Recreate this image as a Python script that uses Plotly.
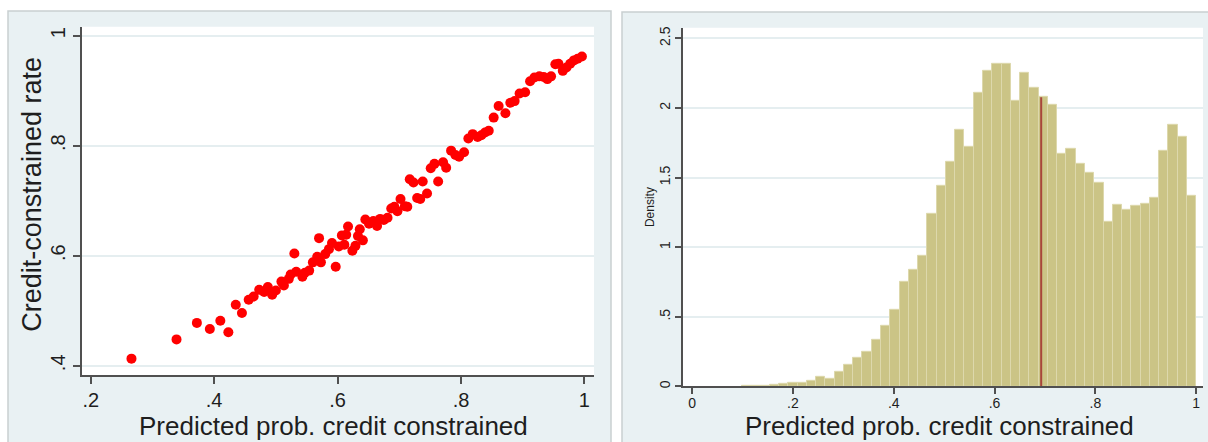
import plotly.graph_objects as go

# ---- data -------------------------------------------------------------
# Left panel: binned predicted probability vs. observed credit-constrained rate
pred_prob = [0.266, 0.339, 0.372, 0.393, 0.410, 0.423, 0.435, 0.445, 0.456, 0.464,
             0.473, 0.481, 0.487, 0.494, 0.500, 0.509, 0.513, 0.521, 0.530, 0.524,
             0.533, 0.543, 0.547, 0.554, 0.560, 0.567, 0.570, 0.573, 0.580, 0.586,
             0.591, 0.597, 0.602, 0.607, 0.611, 0.617, 0.614, 0.624, 0.629, 0.633,
             0.636, 0.641, 0.645, 0.651, 0.658, 0.664, 0.669, 0.675, 0.681, 0.687,
             0.692, 0.697, 0.702, 0.709, 0.713, 0.717, 0.723, 0.729, 0.734, 0.738,
             0.745, 0.751, 0.757, 0.763, 0.771, 0.776, 0.784, 0.791, 0.797, 0.805,
             0.812, 0.819, 0.827, 0.833, 0.839, 0.845, 0.853, 0.861, 0.872, 0.880,
             0.887, 0.895, 0.904, 0.912, 0.919, 0.927, 0.934, 0.940, 0.946, 0.953,
             0.958, 0.965, 0.971, 0.977, 0.983, 0.989, 0.996]
constrained_rate = [0.413, 0.448, 0.478, 0.467, 0.482, 0.461, 0.511, 0.496, 0.520, 0.526,
                    0.538, 0.534, 0.543, 0.529, 0.537, 0.553, 0.546, 0.558, 0.604, 0.566,
                    0.571, 0.562, 0.569, 0.573, 0.588, 0.598, 0.632, 0.588, 0.603, 0.612,
                    0.623, 0.580, 0.617, 0.637, 0.620, 0.653, 0.638, 0.609, 0.618, 0.636,
                    0.648, 0.628, 0.666, 0.658, 0.663, 0.654, 0.667, 0.665, 0.669, 0.686,
                    0.689, 0.681, 0.703, 0.690, 0.689, 0.739, 0.733, 0.705, 0.703, 0.735,
                    0.713, 0.759, 0.767, 0.735, 0.770, 0.760, 0.791, 0.783, 0.780, 0.788,
                    0.813, 0.821, 0.816, 0.819, 0.824, 0.827, 0.851, 0.872, 0.859, 0.878,
                    0.881, 0.895, 0.897, 0.917, 0.924, 0.926, 0.925, 0.921, 0.926, 0.948,
                    0.949, 0.936, 0.942, 0.949, 0.955, 0.958, 0.962]

# Right panel: histogram (density) of predicted probability
bin_start = 0.099
bin_end = 1.0
density = [0.005, 0.005, 0.007, 0.014, 0.017, 0.024, 0.029, 0.041, 0.072, 0.057,
           0.103, 0.155, 0.203, 0.251, 0.335, 0.433, 0.553, 0.751, 0.838, 0.938,
           1.238, 1.444, 1.616, 1.846, 1.718, 2.108, 2.264, 2.319, 2.319, 2.050,
           2.255, 2.147, 2.077, 2.020, 1.672, 1.704, 1.600, 1.535, 1.461, 1.181,
           1.302, 1.267, 1.297, 1.309, 1.357, 1.694, 1.879, 1.793, 1.367]
marker_value = 0.6925

left_xticks = [0.2, 0.4, 0.6, 0.8, 1.0]
left_xlabels = [".2", ".4", ".6", ".8", "1"]
left_yticks = [0.4, 0.6, 0.8, 1.0]
left_ylabels = [".4", ".6", ".8", "1"]
right_xticks = [0, 0.2, 0.4, 0.6, 0.8, 1.0]
right_xlabels = ["0", ".2", ".4", ".6", ".8", "1"]
right_yticks = [0, 0.5, 1.0, 1.5, 2.0, 2.5]
right_ylabels = ["0", ".5", "1", "1.5", "2", "2.5"]

x_title = "Predicted prob. credit constrained"
left_y_title = "Credit-constrained rate"
right_y_title = "Density"

# ---- geometry (pixels) ------------------------------------------------
W, H = 1208, 442
FONT = "Liberation Sans, Arial, sans-serif"
PANEL_BG = "#e9f1f3"
PANEL_EDGE = "#c9cfd1"
GRID = "#e5eef0"
AXIS = "#505050"
TEXT = "#1e1e1e"


def px_x(p):
    return p / W


def px_y(p):
    return 1 - p / H


L_plot = (81.5, 594.0, 26.0, 377.0)   # left, right, top, bottom
R_plot = (683.0, 1203.0, 27.0, 388.0)

n_bins = len(density)
bin_w = (bin_end - bin_start) / n_bins
centers = [bin_start + (i + 0.5) * bin_w for i in range(n_bins)]
line_bin = int((marker_value - bin_start) / bin_w)
line_top = density[line_bin]

fig = go.Figure()

fig.add_trace(go.Scatter(
    x=pred_prob, y=constrained_rate, mode="markers",
    marker=dict(color="#ff0000", size=10, line=dict(width=0)),
    xaxis="x", yaxis="y", showlegend=False, hoverinfo="skip"))

fig.add_trace(go.Bar(
    x=centers, y=density, width=bin_w,
    marker=dict(color="#cbc486", line=dict(color="#ddd8ac", width=1)),
    xaxis="x2", yaxis="y2", showlegend=False, hoverinfo="skip"))

fig.add_trace(go.Scatter(
    x=[marker_value, marker_value], y=[0, line_top], mode="lines",
    line=dict(color="#a8463a", width=2),
    xaxis="x2", yaxis="y2", showlegend=False, hoverinfo="skip"))

axis_common = dict(
    showline=True, linecolor=AXIS, linewidth=1.5,
    ticks="outside", tickcolor=AXIS, tickwidth=1.5,
    zeroline=False, tickmode="array",
)

fig.update_layout(
    width=W, height=H,
    margin=dict(l=0, r=0, t=0, b=0),
    paper_bgcolor="white", plot_bgcolor="rgba(0,0,0,0)",
    font=dict(family=FONT, color=TEXT),
    bargap=0,
    xaxis=dict(domain=[px_x(L_plot[0]), px_x(L_plot[1])],
               range=[0.185, 1.0156], anchor="y",
               tickvals=left_xticks, ticktext=left_xlabels,
               ticklen=7, tickfont=dict(size=20), showgrid=False,
               ticklabelstandoff=-1,
               **axis_common),
    yaxis=dict(domain=[px_y(L_plot[3]), px_y(L_plot[2])],
               range=[0.3825, 1.016], anchor="x",
               tickvals=left_yticks, ticktext=left_ylabels,
               ticklen=7, tickfont=dict(size=20), tickangle=-90,
               showgrid=True, gridcolor=GRID, gridwidth=1.5,
               **axis_common),
    xaxis2=dict(domain=[px_x(R_plot[0]), px_x(R_plot[1])],
                range=[-0.018, 1.0135], anchor="y2",
                tickvals=right_xticks, ticktext=right_xlabels,
                ticklen=6, tickfont=dict(size=14), showgrid=False,
                ticklabelstandoff=-3,
                **axis_common),
    yaxis2=dict(domain=[px_y(R_plot[3]), px_y(R_plot[2])],
                range=[0, 2.576], anchor="x2",
                tickvals=right_yticks, ticktext=right_ylabels,
                ticklen=6, tickfont=dict(size=14), tickangle=-90,
                showgrid=True, gridcolor=GRID, gridwidth=1.5,
                **axis_common),
)

# panel backgrounds and white plot regions
shapes = []
for (x0, x1, y0, y1) in [(8, 611, 10, 445), (622, 1212, 11, 445)]:
    shapes.append(dict(type="rect", xref="paper", yref="paper", layer="below",
                       x0=px_x(x0), x1=px_x(x1), y0=px_y(y1), y1=px_y(y0),
                       fillcolor=PANEL_BG, line=dict(color=PANEL_EDGE, width=1.5)))
for (l, r, t, b) in [L_plot, R_plot]:
    shapes.append(dict(type="rect", xref="paper", yref="paper", layer="below",
                       x0=px_x(l), x1=px_x(r), y0=px_y(b), y1=px_y(t),
                       fillcolor="white", line=dict(width=0)))
fig.update_layout(shapes=shapes)

# axis titles; the x titles sit against the bottom edge of the page
annotations = [
    dict(text=x_title, x=px_x(333), y=px_y(445), yanchor="bottom",
         font=dict(size=26)),
    dict(text=x_title, x=px_x(939), y=px_y(445), yanchor="bottom",
         font=dict(size=26)),
    dict(text=left_y_title, x=px_x(32), y=px_y(195), yanchor="middle",
         textangle=-90, font=dict(size=27)),
    dict(text=right_y_title, x=px_x(649.5), y=px_y(208), yanchor="middle",
         textangle=-90, font=dict(size=12)),
]
for a in annotations:
    a.update(xref="paper", yref="paper", showarrow=False, xanchor="center")
fig.update_layout(annotations=annotations)

fig.write_html("out.html")
